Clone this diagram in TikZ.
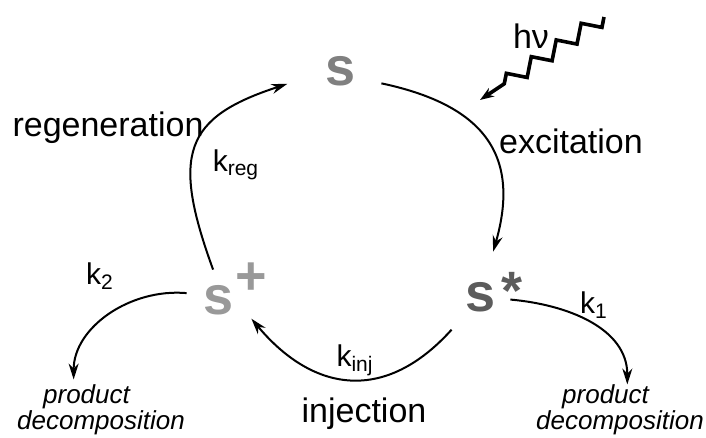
\documentclass[tikz,border=0pt]{standalone}
\usepackage{fontspec}
\setmainfont{Liberation Sans}
\usetikzlibrary{arrows.meta,decorations.pathmorphing}
\definecolor{sgray}{gray}{0.50}
\definecolor{sstar}{gray}{0.36}
\definecolor{splus}{gray}{0.60}
\tikzset{
  species/.style={font=\fontsize{27}{27}\selectfont\bfseries, inner sep=0pt},
  supmark/.style={font=\fontsize{27}{27}\selectfont\bfseries, inner sep=0pt},
  proc/.style={font=\fontsize{17}{17}\selectfont},
  rate/.style={font=\fontsize{15}{15}\selectfont},
  fate/.style={font=\fontsize{13}{13}\selectfont\itshape, align=left, inner sep=0pt},
  cyc/.style={line width=1pt, -{Stealth[length=8pt,width=5pt]}}
}
\begin{document}
\begin{tikzpicture}[x=0.5pt,y=-0.5pt]
  \useasboundingbox (0,0) rectangle (706,438);
  % species
  \node[species,sgray,minimum width=40pt,minimum height=14pt] (S) at (341,71) {s};
  \node[species,sstar,minimum width=29pt,minimum height=45pt] (Sx) at (481,297) {s};
  \node[species,splus,minimum width=32pt,minimum height=30pt] (Sp) at (219,300) {s};
  \node[supmark,sstar] (Sx-mark) at (512,291) {*};
  \node[supmark,splus] (Sp-mark) at (251,279) {+};
  % products
  \node[fate] (D1) at (620,410) {\hspace*{13pt}product\\decomposition};
  \node[fate] (D2) at (101,410) {\hspace*{13pt}product\\decomposition};
  % cycle
  \draw[cyc] (S.-17) to[out=-12,in=74,looseness=1.3] (Sx.75);
  \draw[cyc] (Sx.228) to[out=228,in=310,looseness=1.25] (Sp.-30);
  \draw[cyc,shorten >=7pt] (Sp.101) to[out=110,in=198,looseness=1.5] (S.192);
  \draw[cyc] (Sx.-5) to[out=-5,in=90] (D1.74);
  \draw[cyc,shorten >=2.5pt] (Sp.168) to[out=175,in=90] (D2.137);
  % light
  \coordinate (hv-a) at (604,17);
  \coordinate (hv-b) at (480,100);
  \draw[line width=1.8pt,-{Stealth[length=7pt,width=5pt]},decorate,
    decoration={zigzag,segment length=15pt,amplitude=3.75pt,post length=9pt}] (hv-a) -- (hv-b);
  \node[proc] (hv) at (531,36) {hν};
  % labels
  \node[proc] (regeneration) at (108,128) {regeneration};
  \node[proc] (excitation) at (571,141) {excitation};
  \node[proc] (injection) at (364,414) {injection};
  \node[rate] (kreg) at (236,165) {k\textsubscript{reg}};
  \node[rate] (kinj) at (355,360) {k\textsubscript{inj}};
  \node[rate] (k1) at (594,305) {k\textsubscript{1}};
  \node[rate] (k2) at (100,276) {k\textsubscript{2}};
\end{tikzpicture}
\end{document}
